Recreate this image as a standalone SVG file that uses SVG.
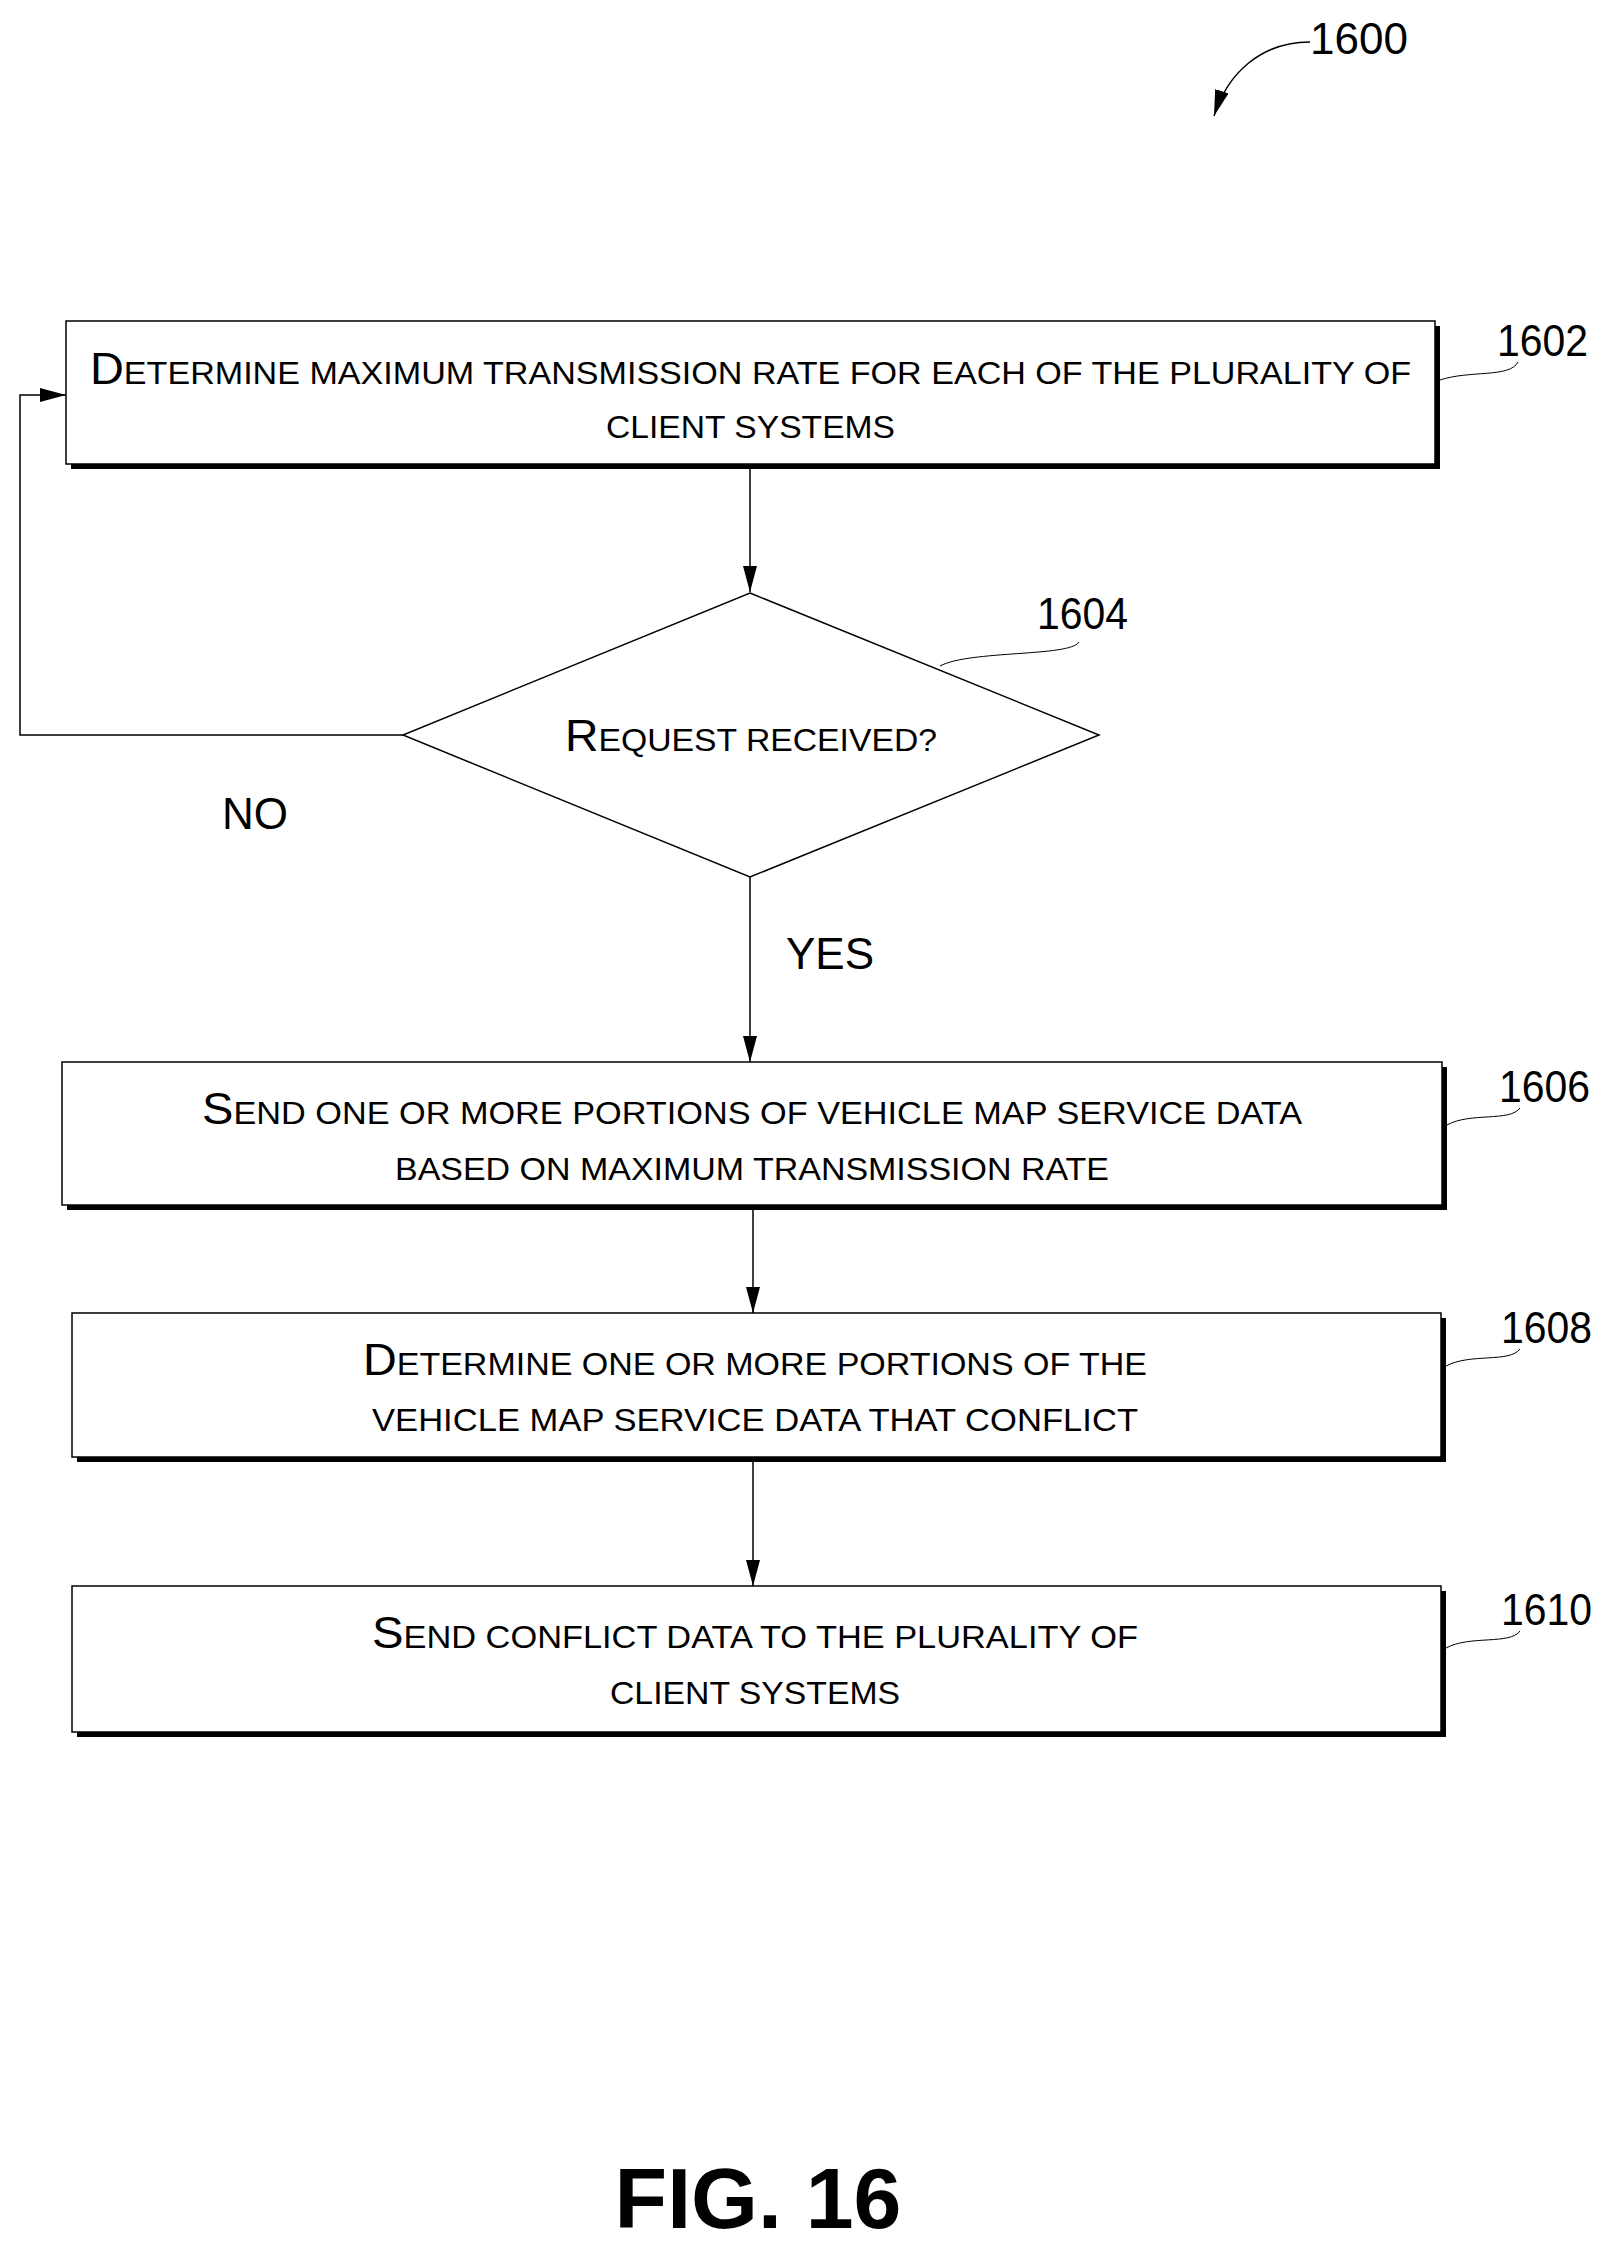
<svg xmlns="http://www.w3.org/2000/svg" width="1623" height="2266" viewBox="0 0 1623 2266">
<style>
.box{fill:#fff;stroke:#000;stroke-width:1.5}
.sh{fill:#000}
.t{font-family:"Liberation Sans Narrow","Liberation Sans",sans-serif;font-size:32px;fill:#000}
.b{font-size:44px}
.n{font-family:"Liberation Sans Narrow","Liberation Sans",sans-serif;font-size:44px;fill:#000}
.ln{fill:none;stroke:#000;stroke-width:1.5}
.ld{fill:none;stroke:#000;stroke-width:1}
</style>
<defs>
<marker id="ah" markerWidth="26" markerHeight="14" refX="26" refY="7" orient="auto" markerUnits="userSpaceOnUse" viewBox="0 0 26 14"><path d="M0,0 L26,7 L0,14 Z" fill="#000"/></marker>
</defs>
<rect width="1623" height="2266" fill="#fff"/>
<g id="label1600">
<text class="n" x="1310" y="54">1600</text>
<path class="ln" d="M1310,42 C1262,42 1228,72 1214,116" marker-end="url(#ah)"/>
</g>
<g id="n1602">
<rect class="sh" x="71" y="326" width="1369" height="143"/>
<rect class="box" x="66" y="321" width="1369" height="143"/>
<text class="t" x="90" y="384" textLength="1321" lengthAdjust="spacingAndGlyphs"><tspan class="b">D</tspan>ETERMINE MAXIMUM TRANSMISSION RATE FOR EACH OF THE PLURALITY OF</text>
<text class="t" x="606" y="438" textLength="289" lengthAdjust="spacingAndGlyphs">CLIENT SYSTEMS</text>
<text class="n" x="1497" y="356" textLength="91" lengthAdjust="spacingAndGlyphs">1602</text>
<path class="ld" d="M1440,380 C1470,370 1510,378 1518,362"/>
</g>
<g id="n1604">
<polygon class="box" points="750,593 1099,735 750,877 403,735"/>
<text class="t" x="565" y="751" textLength="372" lengthAdjust="spacingAndGlyphs"><tspan class="b">R</tspan>EQUEST RECEIVED?</text>
<text class="n" x="1037" y="629" textLength="91" lengthAdjust="spacingAndGlyphs">1604</text>
<path class="ld" d="M940,666 C970,650 1070,657 1079,642"/>
</g>
<g id="n1606">
<rect class="sh" x="67" y="1067" width="1380" height="143"/>
<rect class="box" x="62" y="1062" width="1380" height="143"/>
<text class="t" x="202" y="1124" textLength="1100" lengthAdjust="spacingAndGlyphs"><tspan class="b">S</tspan>END ONE OR MORE PORTIONS OF VEHICLE MAP SERVICE DATA</text>
<text class="t" x="395" y="1180" textLength="714" lengthAdjust="spacingAndGlyphs">BASED ON MAXIMUM TRANSMISSION RATE</text>
<text class="n" x="1499" y="1102" textLength="91" lengthAdjust="spacingAndGlyphs">1606</text>
<path class="ld" d="M1447,1125 C1470,1112 1510,1122 1520,1108"/>
</g>
<g id="n1608">
<rect class="sh" x="77" y="1318" width="1369" height="144"/>
<rect class="box" x="72" y="1313" width="1369" height="144"/>
<text class="t" x="363" y="1375" textLength="784" lengthAdjust="spacingAndGlyphs"><tspan class="b">D</tspan>ETERMINE ONE OR MORE PORTIONS OF THE</text>
<text class="t" x="372" y="1431" textLength="766" lengthAdjust="spacingAndGlyphs">VEHICLE MAP SERVICE DATA THAT CONFLICT</text>
<text class="n" x="1501" y="1343" textLength="91" lengthAdjust="spacingAndGlyphs">1608</text>
<path class="ld" d="M1446,1366 C1470,1353 1510,1363 1520,1349"/>
</g>
<g id="n1610">
<rect class="sh" x="77" y="1591" width="1369" height="146"/>
<rect class="box" x="72" y="1586" width="1369" height="146"/>
<text class="t" x="372" y="1648" textLength="766" lengthAdjust="spacingAndGlyphs"><tspan class="b">S</tspan>END CONFLICT DATA TO THE PLURALITY OF</text>
<text class="t" x="610" y="1704" textLength="290" lengthAdjust="spacingAndGlyphs">CLIENT SYSTEMS</text>
<text class="n" x="1501" y="1625" textLength="91" lengthAdjust="spacingAndGlyphs">1610</text>
<path class="ld" d="M1446,1648 C1470,1635 1510,1645 1520,1631"/>
</g>
<g id="connectors">
<path class="ln" d="M750,466 L750,592" marker-end="url(#ah)"/>
<path class="ln" d="M403,735 L20,735 L20,395 L66,395" marker-end="url(#ah)"/>
<path class="ln" d="M750,877 L750,1062" marker-end="url(#ah)"/>
<path class="ln" d="M753,1210 L753,1313" marker-end="url(#ah)"/>
<path class="ln" d="M753,1462 L753,1586" marker-end="url(#ah)"/>
<text class="n" x="222" y="829" font-size="40">NO</text>
<text class="n" x="786" y="969" font-size="40">YES</text>
</g>
<text x="758" y="2228" text-anchor="middle" font-family="Liberation Sans, sans-serif" font-weight="bold" font-size="86">FIG. 16</text>
</svg>
